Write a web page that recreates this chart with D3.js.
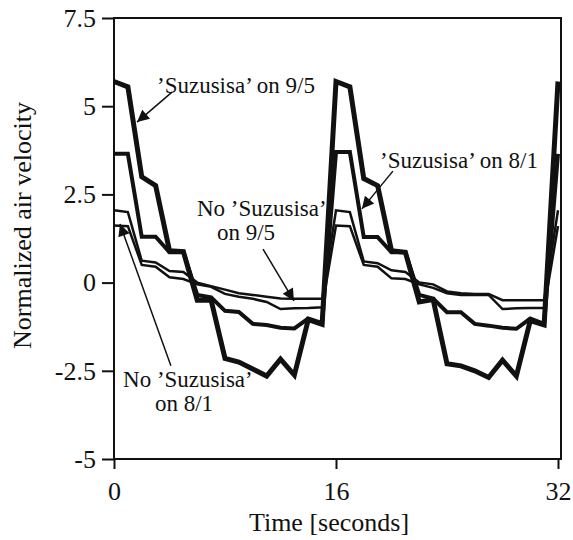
<!DOCTYPE html>
<html>
<head>
<meta charset="utf-8">
<script src="https://cdnjs.cloudflare.com/ajax/libs/d3/7.8.5/d3.min.js"></script>
<style>
  body { margin: 0; background: #fff; }
</style>
</head>
<body>
<div id="container"></div>
<script>
// time axis (seconds), one sample per second
var seconds = [0,1,2,3,4,5,6,7,8,9,10,11,12,13,14,15,16,17,18,19,20,21,22,23,24,25,26,27,28,29,30,31,32];

// normalized air velocity
var suzusisa95 = [5.7,5.55,3.0,2.75,0.9,0.88,-0.5,-0.5,-2.15,-2.25,-2.45,-2.65,-2.17,-2.62,-1.05,-1.18,
                  5.7,5.55,2.95,2.75,0.9,0.86,-0.55,-0.48,-2.3,-2.36,-2.5,-2.69,-2.2,-2.65,-1.08,-1.2,5.7];
var suzusisa81 = [3.65,3.65,1.3,1.3,0.86,0.86,-0.35,-0.42,-0.8,-0.83,-1.17,-1.2,-1.28,-1.3,-1.02,-1.15,
                  3.7,3.7,1.29,1.29,0.86,0.86,-0.35,-0.45,-0.84,-0.84,-1.17,-1.22,-1.28,-1.31,-1.02,-1.17,3.65];
var noSuzusisa95 = [2.05,2.0,0.62,0.57,0.33,0.3,0.0,-0.1,-0.2,-0.3,-0.35,-0.4,-0.45,-0.46,-0.46,-0.46,
                    2.05,2.0,0.6,0.55,0.35,0.3,0.0,-0.05,-0.25,-0.3,-0.32,-0.32,-0.5,-0.5,-0.5,-0.5,2.05];
var noSuzusisa81 = [1.62,1.6,0.5,0.45,0.15,0.1,-0.05,-0.12,-0.32,-0.4,-0.46,-0.55,-0.75,-0.73,-0.72,-0.7,
                    1.62,1.6,0.5,0.45,0.12,0.1,-0.05,-0.15,-0.3,-0.35,-0.35,-0.35,-0.75,-0.73,-0.72,-0.72,1.6];

var xTicks = [0, 16, 32];
var yTicks = [-5, -2.5, 0, 2.5, 5, 7.5];
var yTickLabels = ["-5", "-2.5", "0", "2.5", "5", "7.5"];

var serif = "'Liberation Serif', 'Times New Roman', Times, serif";

function draw() {
    var w = 573, h = 540;
    var mLeft = 114, mRight = 558, mTop = 18, mBottom = 459;

    var svg = d3.select("#container").append("svg")
        .attr("width", w)
        .attr("height", h)
        .attr("font-family", serif);

    var x = d3.scaleLinear().domain([0, 32]).range([mLeft, mRight]);
    var y = d3.scaleLinear().domain([-5, 7.5]).range([mBottom, mTop]);

    // frame
    svg.append("rect")
        .attr("x", mLeft).attr("y", mTop)
        .attr("width", mRight + 3 - mLeft).attr("height", mBottom - mTop)
        .attr("fill", "none").attr("stroke", "#111").attr("stroke-width", 2);

    // axes
    var yAxis = d3.axisLeft(y).tickValues(yTicks)
        .tickFormat(function(d, i) { return yTickLabels[i]; })
        .tickSize(12).tickSizeOuter(0).tickPadding(6);
    var gy = svg.append("g").attr("transform", "translate(" + mLeft + ",0)").call(yAxis);

    var xAxis = d3.axisBottom(x).tickValues(xTicks)
        .tickSize(10).tickSizeOuter(0).tickPadding(13);
    var gx = svg.append("g").attr("transform", "translate(0," + mBottom + ")").call(xAxis);

    [gx, gy].forEach(function(g) {
        g.attr("font-family", serif).attr("font-size", 26);
        g.select(".domain").remove();
        g.selectAll(".tick line").attr("stroke", "#111").attr("stroke-width", 2);
        g.selectAll(".tick text").attr("fill", "#111");
    });

    svg.append("text")
        .attr("transform", "translate(31," + ((mTop + mBottom) / 2 - 13) + ") rotate(-90)")
        .attr("text-anchor", "middle")
        .attr("font-size", 26)
        .attr("fill", "#111")
        .text("Normalized air velocity");

    svg.append("text")
        .attr("x", 329).attr("y", 531)
        .attr("text-anchor", "middle")
        .attr("font-size", 26)
        .attr("fill", "#111")
        .text("Time [seconds]");

    // series
    var series = [
        { values: noSuzusisa81, width: 2.5 },
        { values: noSuzusisa95, width: 2.5 },
        { values: suzusisa81, width: 4 },
        { values: suzusisa95, width: 5 }
    ];

    var line = d3.line()
        .x(function(d, i) { return x(seconds[i]); })
        .y(function(d) { return y(d); });

    svg.selectAll("path.series")
        .data(series)
        .enter()
        .append("path")
        .attr("class", "series")
        .attr("d", function(d) { return line(d.values); })
        .attr("fill", "none")
        .attr("stroke", "#111")
        .attr("stroke-linejoin", "miter")
        .attr("stroke-width", function(d) { return d.width; });

    // annotations (in data units)
    svg.append("defs").append("marker")
        .attr("id", "arrow")
        .attr("viewBox", "0 0 10 10")
        .attr("refX", 10).attr("refY", 5)
        .attr("markerUnits", "userSpaceOnUse")
        .attr("markerWidth", 16).attr("markerHeight", 12)
        .attr("orient", "auto")
        .append("path")
        .attr("d", "M0,0 L10,5 L0,10 Z")
        .attr("fill", "#111");

    var notes = [
        { lines: ["\u2019Suzusisa\u2019 on 9/5"], t: 3.1, v: 5.37, from: [4.18, 5.4], to: [1.66, 4.55] },
        { lines: ["\u2019Suzusisa\u2019 on 8/1"], t: 19.17, v: 3.25, from: [20.1, 3.16], to: [17.87, 2.09] },
        { lines: ["No \u2019Suzusisa\u2019", "on 9/5"], t: 5.98, v: 1.89, t2: 7.42, from: [10.74, 0.95], to: [12.97, -0.52] },
        { lines: ["No \u2019Suzusisa\u2019", "on 8/1"], t: 0.65, v: -2.96, t2: 2.95, from: [4.1, -2.36], to: [0.43, 1.66] }
    ];

    notes.forEach(function(n) {
        svg.append("line")
            .attr("x1", x(n.from[0])).attr("y1", y(n.from[1]))
            .attr("x2", x(n.to[0])).attr("y2", y(n.to[1]))
            .attr("stroke", "#111").attr("stroke-width", 1.5)
            .attr("marker-end", "url(#arrow)");
        n.lines.forEach(function(s, i) {
            svg.append("text")
                .attr("x", i == 0 ? x(n.t) : x(n.t2))
                .attr("y", y(n.v) + i * 24)
                .attr("font-size", 23)
                .attr("fill", "#111")
                .text(s);
        });
    });
}

draw();
</script>
</body>
</html>
